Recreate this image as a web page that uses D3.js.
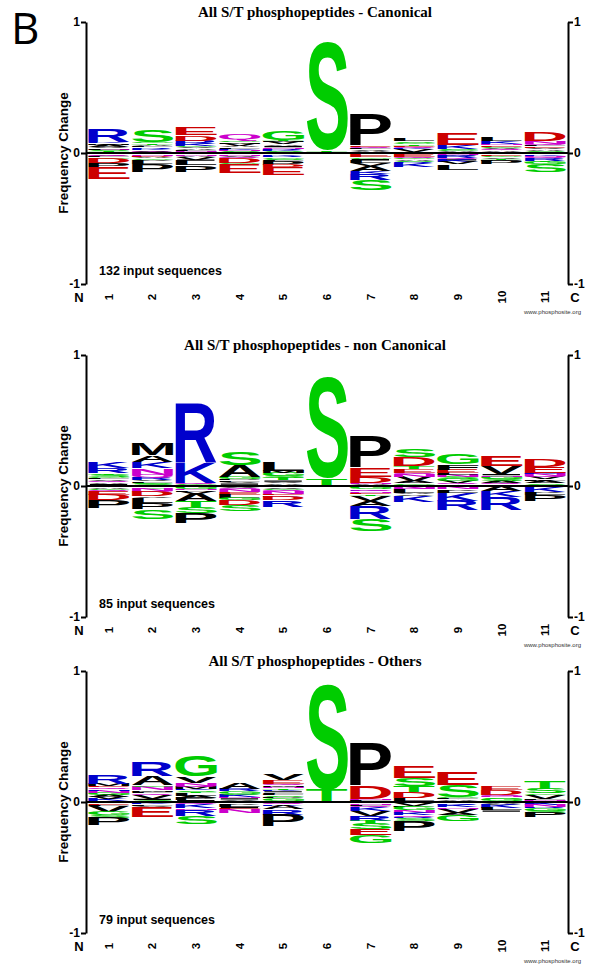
<!DOCTYPE html>
<html>
<head>
<meta charset="utf-8">
<script src="https://cdn.jsdelivr.net/npm/d3@7"></script>
<style>
  body { margin: 0; background: #fff; }
  svg { display: block; }
</style>
</head>
<body>
<svg id="chart" width="592" height="970"></svg>
<script>
// positions along the peptide
const positions = [1, 2, 3, 4, 5, 6, 7, 8, 9, 10, 11];
const yTicks = [-1, 0, 1];
const titles = [
  "All S/T phosphopeptides - Canonical",
  "All S/T phosphopeptides - non Canonical",
  "All S/T phosphopeptides - Others"
];
const sequenceCounts = [132, 85, 79];

// stacks listed from the zero line outward: [residue, frequency change]
const canonicalUp = [
  [["I",0.006],["T",0.006],["S",0.008],["N",0.006],["L",0.01],["V",0.012],["A",0.015],["M",0.01],["K",0.012],["R",0.1]],
  [["E",0.005],["Q",0.006],["V",0.01],["K",0.01],["R",0.012],["L",0.01],["A",0.01],["T",0.01],["G",0.012],["S",0.085]],
  [["S",0.01],["N",0.006],["L",0.01],["A",0.01],["V",0.01],["G",0.008],["K",0.015],["R",0.025],["D",0.04],["E",0.06]],
  [["I",0.008],["S",0.008],["N",0.008],["K",0.008],["L",0.012],["A",0.012],["V",0.015],["M",0.012],["G",0.01],["Q",0.05]],
  [["L",0.01],["S",0.008],["K",0.008],["R",0.008],["N",0.01],["I",0.01],["A",0.012],["V",0.015],["M",0.01],["T",0.01],["G",0.07]],
  [["G",0.006],["T",0.012],["S",0.82]],
  [["N",0.008],["A",0.01],["V",0.01],["L",0.008],["Q",0.01],["E",0.012],["P",0.24]],
  [["A",0.01],["V",0.02],["K",0.008],["Q",0.008],["E",0.01],["T",0.01],["G",0.012],["S",0.012],["L",0.018]],
  [["V",0.008],["A",0.008],["G",0.01],["S",0.008],["K",0.025],["E",0.09]],
  [["S",0.01],["A",0.01],["Q",0.008],["V",0.01],["G",0.01],["E",0.012],["N",0.008],["K",0.02],["L",0.025]],
  [["K",0.008],["S",0.01],["A",0.01],["V",0.01],["E",0.012],["L",0.01],["Q",0.012],["N",0.018],["D",0.07]]
];
const canonicalDown = [
  [["A",0.01],["V",0.01],["Q",0.006],["L",0.008],["G",0.01],["D",0.035],["P",0.03],["E",0.09]],
  [["Q",0.008],["N",0.012],["D",0.008],["A",0.01],["G",0.012],["V",0.012],["L",0.025],["P",0.06]],
  [["Q",0.008],["N",0.012],["A",0.01],["V",0.02],["I",0.01],["L",0.035],["P",0.05]],
  [["A",0.01],["N",0.01],["V",0.01],["Q",0.006],["D",0.04],["G",0.008],["E",0.07]],
  [["A",0.01],["K",0.012],["R",0.01],["G",0.012],["S",0.01],["L",0.01],["P",0.03],["D",0.015],["E",0.06]],
  [],
  [["Q",0.008],["E",0.025],["G",0.012],["I",0.012],["L",0.02],["V",0.02],["A",0.04],["K",0.02],["R",0.05],["S",0.075]],
  [["N",0.01],["E",0.02],["Q",0.01],["G",0.008],["A",0.01],["S",0.01],["R",0.012],["K",0.025]],
  [["N",0.012],["A",0.01],["R",0.015],["Q",0.01],["I",0.01],["K",0.015],["V",0.015],["L",0.04]],
  [["A",0.01],["E",0.012],["G",0.01],["V",0.01],["T",0.008],["L",0.008],["P",0.03]],
  [["A",0.01],["K",0.01],["N",0.012],["Q",0.008],["R",0.018],["T",0.01],["G",0.015],["S",0.06]]
];

const nonCanonicalUp = [
  [["N",0.008],["I",0.008],["A",0.012],["Q",0.01],["V",0.012],["L",0.01],["G",0.012],["S",0.015],["T",0.01],["R",0.04],["K",0.05]],
  [["S",0.015],["G",0.01],["L",0.012],["V",0.01],["R",0.015],["Q",0.025],["N",0.05],["K",0.05],["A",0.05],["M",0.09]],
  [["A",0.008],["G",0.008],["Q",0.006],["K",0.16],["R",0.45]],
  [["Q",0.01],["I",0.01],["V",0.012],["L",0.012],["P",0.01],["G",0.015],["A",0.09],["S",0.095]],
  [["Q",0.008],["A",0.012],["V",0.012],["I",0.01],["T",0.015],["S",0.02],["G",0.025],["M",0.015],["L",0.07]],
  [["G",0.008],["T",0.05],["S",0.77]],
  [["Q",0.006],["A",0.008],["N",0.012],["D",0.045],["E",0.07],["P",0.24]],
  [["L",0.01],["G",0.012],["A",0.015],["V",0.035],["N",0.015],["Q",0.015],["E",0.03],["T",0.02],["D",0.07],["S",0.055]],
  [["A",0.01],["Q",0.01],["V",0.015],["G",0.015],["S",0.02],["N",0.015],["L",0.015],["E",0.025],["F",0.04],["G",0.08]],
  [["T",0.01],["Q",0.01],["A",0.015],["S",0.015],["G",0.02],["N",0.012],["I",0.01],["V",0.06],["E",0.08]],
  [["G",0.01],["S",0.01],["A",0.02],["L",0.01],["V",0.015],["Q",0.012],["N",0.015],["K",0.008],["E",0.045],["D",0.06]]
];
const nonCanonicalDown = [
  [["N",0.01],["A",0.01],["G",0.012],["Q",0.008],["E",0.025],["D",0.045],["P",0.06]],
  [["A",0.01],["G",0.012],["N",0.015],["Q",0.008],["D",0.035],["V",0.01],["L",0.04],["P",0.05],["S",0.07]],
  [["Q",0.008],["G",0.015],["N",0.008],["L",0.012],["V",0.015],["A",0.055],["T",0.045],["S",0.045],["P",0.08]],
  [["A",0.008],["V",0.01],["Q",0.01],["N",0.018],["E",0.02],["L",0.025],["G",0.015],["D",0.04],["S",0.045]],
  [["A",0.01],["V",0.01],["G",0.012],["Q",0.01],["N",0.02],["E",0.01],["K",0.01],["D",0.025],["R",0.05]],
  [],
  [["L",0.008],["G",0.015],["K",0.012],["Q",0.008],["N",0.01],["E",0.01],["T",0.01],["V",0.04],["A",0.04],["R",0.1],["S",0.09]],
  [["N",0.02],["Q",0.008],["L",0.025],["A",0.01],["V",0.01],["K",0.05]],
  [["A",0.01],["N",0.015],["V",0.012],["L",0.015],["K",0.06],["R",0.075]],
  [["A",0.04],["K",0.045],["R",0.1]],
  [["G",0.01],["K",0.035],["V",0.01],["L",0.015],["P",0.045]]
];

const othersUp = [
  [["L",0.01],["K",0.015],["V",0.015],["A",0.015],["G",0.015],["N",0.015],["H",0.012],["Q",0.015],["E",0.012],["M",0.015],["R",0.065]],
  [["S",0.015],["I",0.01],["V",0.03],["Q",0.01],["L",0.012],["M",0.012],["N",0.025],["G",0.012],["A",0.07],["R",0.105]],
  [["I",0.015],["P",0.015],["A",0.015],["L",0.02],["T",0.012],["S",0.012],["K",0.01],["M",0.015],["Q",0.01],["N",0.02],["V",0.05],["G",0.16]],
  [["L",0.01],["V",0.01],["I",0.008],["N",0.008],["K",0.015],["S",0.01],["G",0.02],["R",0.015],["A",0.045]],
  [["A",0.01],["G",0.02],["P",0.01],["S",0.012],["F",0.01],["L",0.012],["I",0.008],["K",0.012],["T",0.01],["N",0.012],["M",0.012],["Q",0.01],["E",0.03],["V",0.05]],
  [["G",0.006],["T",0.085],["S",0.8]],
  [["A",0.008],["L",0.008],["N",0.008],["D",0.1],["P",0.33]],
  [["A",0.008],["L",0.022],["D",0.045],["T",0.045],["S",0.06],["E",0.085]],
  [["V",0.01],["A",0.01],["L",0.008],["G",0.012],["S",0.09],["E",0.1]],
  [["A",0.008],["G",0.015],["S",0.012],["N",0.01],["Q",0.008],["D",0.04],["E",0.03]],
  [["A",0.01],["N",0.008],["L",0.008],["V",0.03],["G",0.01],["S",0.035],["T",0.055]]
];
const othersDown = [
  [["A",0.008],["E",0.012],["L",0.01],["V",0.045],["G",0.025],["S",0.02],["P",0.06]],
  [["A",0.01],["K",0.008],["L",0.01],["V",0.008],["E",0.08]],
  [["A",0.01],["Q",0.008],["K",0.03],["N",0.012],["R",0.05],["S",0.06]],
  [["A",0.01],["V",0.012],["L",0.015],["I",0.01],["E",0.01],["N",0.03]],
  [["N",0.01],["Q",0.01],["K",0.012],["A",0.025],["R",0.04],["P",0.09]],
  [],
  [["A",0.008],["N",0.012],["L",0.01],["Q",0.01],["K",0.025],["V",0.04],["R",0.04],["T",0.015],["S",0.045],["E",0.05],["G",0.06]],
  [["A",0.01],["V",0.02],["L",0.008],["G",0.025],["N",0.02],["K",0.02],["Q",0.01],["R",0.012],["S",0.02],["P",0.08]],
  [["L",0.008],["R",0.012],["K",0.02],["N",0.012],["V",0.03],["A",0.015],["G",0.05]],
  [["A",0.012],["V",0.012],["K",0.025],["L",0.015],["I",0.01]],
  [["A",0.008],["K",0.015],["N",0.015],["R",0.01],["G",0.02],["S",0.015],["P",0.035]]
];

const panels = [
  { title: titles[0], count: sequenceCounts[0], up: canonicalUp, down: canonicalDown, top: 22 },
  { title: titles[1], count: sequenceCounts[1], up: nonCanonicalUp, down: nonCanonicalDown, top: 355 },
  { title: titles[2], count: sequenceCounts[2], up: othersUp, down: othersDown, top: 671 }
];

const colorOf = {
  R: "#0000cc", K: "#0000cc", H: "#0000cc",
  D: "#cc0000", E: "#cc0000",
  S: "#00cc00", T: "#00cc00", G: "#00cc00", Y: "#00cc00", C: "#00cc00",
  N: "#cc00cc", Q: "#cc00cc"
};
const letterFont = "'Liberation Sans', Arial, Helvetica, sans-serif";

// measure glyph ink boxes once so each letter can be stretched to its cell
const ctx = document.createElement("canvas").getContext("2d");
ctx.font = "bold 100px 'Liberation Sans'";
const inkCache = {};
function ink(ch) {
  if (!inkCache[ch]) {
    const m = ctx.measureText(ch);
    inkCache[ch] = {
      l: m.actualBoundingBoxLeft,
      r: m.actualBoundingBoxRight,
      a: m.actualBoundingBoxAscent,
      d: m.actualBoundingBoxDescent
    };
  }
  return inkCache[ch];
}

function drawLetter(g, ch, x0, y0, w, h) {
  if (h <= 0) return;
  const b = ink(ch);
  const sx = w / (b.l + b.r);
  const sy = h / (b.a + b.d);
  g.append("text")
    .attr("transform",
      "translate(" + x0 + "," + y0 + ") scale(" + sx + "," + sy + ") translate(" + b.l + "," + b.a + ")")
    .attr("font-family", letterFont)
    .attr("font-weight", "bold")
    .attr("font-size", 100)
    .attr("fill", colorOf[ch] || "#000")
    .text(ch);
}

const svg = d3.select("#chart");

svg.append("text")
  .attr("x", 11)
  .attr("y", 44)
  .attr("font-family", "'Open Sans', 'Noto Sans', sans-serif")
  .attr("font-size", 44)
  .text("B");

const x = d3.scaleBand()
  .domain(positions)
  .range([87, 567])
  .paddingInner(0.05)
  .paddingOuter(0.025);

panels.forEach((p) => {
  const y = d3.scaleLinear().domain([1, -1]).range([p.top, p.top + 262]);
  const g = svg.append("g");

  // letter stacks
  const logo = g.append("g");
  positions.forEach((pos, j) => {
    let acc = 0;
    p.up[j].forEach(([ch, v]) => {
      const y0 = y(acc + v), y1 = y(acc);
      drawLetter(logo, ch, x(pos), y0, x.bandwidth(), y1 - y0);
      acc += v;
    });
    acc = 0;
    p.down[j].forEach(([ch, v]) => {
      const y0 = y(-acc), y1 = y(-acc - v);
      drawLetter(logo, ch, x(pos), y0, x.bandwidth(), y1 - y0);
      acc += v;
    });
  });

  // zero line
  g.append("line")
    .attr("x1", 86).attr("x2", 568)
    .attr("y1", y(0)).attr("y2", y(0))
    .attr("stroke", "#000")
    .attr("stroke-width", 2);

  const leftAxis = d3.axisLeft(y).tickValues(yTicks).tickSize(5).tickSizeOuter(0)
    .tickPadding(1).tickFormat((d) => String(d));
  const rightAxis = d3.axisRight(y).tickValues(yTicks).tickSize(5).tickSizeOuter(0)
    .tickPadding(1).tickFormat((d) => String(d));

  [[leftAxis, 86], [rightAxis, 568]].forEach(([ax, xp]) => {
    const a = g.append("g")
      .attr("transform", "translate(" + xp + ",0)")
      .call(ax);
    a.selectAll("path, line").attr("stroke", "#000").attr("stroke-width", 2);
    a.selectAll("text")
      .attr("font-family", letterFont)
      .attr("font-weight", "bold")
      .attr("font-size", 12)
      .attr("fill", "#000");
  });

  // position labels
  const xa = g.append("g")
    .attr("transform", "translate(0," + y(-1) + ")")
    .call(d3.axisBottom(x).tickSize(0).tickPadding(0));
  xa.select(".domain").remove();
  xa.selectAll("text")
    .attr("transform", "rotate(-90)")
    .attr("x", -13)
    .attr("y", 0)
    .attr("dy", "0.35em")
    .style("text-anchor", "middle")
    .attr("font-family", letterFont)
    .attr("font-weight", "bold")
    .attr("font-size", 11.5)
    .attr("fill", "#000");

  [["N", 79], ["C", 575]].forEach(([t, xp]) => {
    g.append("text")
      .attr("x", xp)
      .attr("y", y(-1) + 13)
      .attr("dy", "0.35em")
      .attr("text-anchor", "middle")
      .attr("font-family", letterFont)
      .attr("font-weight", "bold")
      .attr("font-size", 13)
      .text(t);
  });

  g.append("text")
    .attr("transform", "translate(68," + y(0) + ") rotate(-90)")
    .attr("text-anchor", "middle")
    .attr("font-family", letterFont)
    .attr("font-weight", "bold")
    .attr("font-size", 13.5)
    .text("Frequency Change");

  g.append("text")
    .attr("x", 315)
    .attr("y", p.top - 5)
    .attr("text-anchor", "middle")
    .attr("font-family", "'Liberation Serif', 'Times New Roman', serif")
    .attr("font-weight", "bold")
    .attr("font-size", 15)
    .text(p.title);

  g.append("text")
    .attr("x", 99)
    .attr("y", y(-1) - 9)
    .attr("font-family", letterFont)
    .attr("font-weight", "bold")
    .attr("font-size", 12.5)
    .text(p.count + " input sequences");

  g.append("text")
    .attr("x", 581)
    .attr("y", y(-1) + 30)
    .attr("text-anchor", "end")
    .attr("font-family", letterFont)
    .attr("font-size", 6)
    .attr("fill", "#333")
    .text("www.phosphosite.org");
});
</script>
</body>
</html>
